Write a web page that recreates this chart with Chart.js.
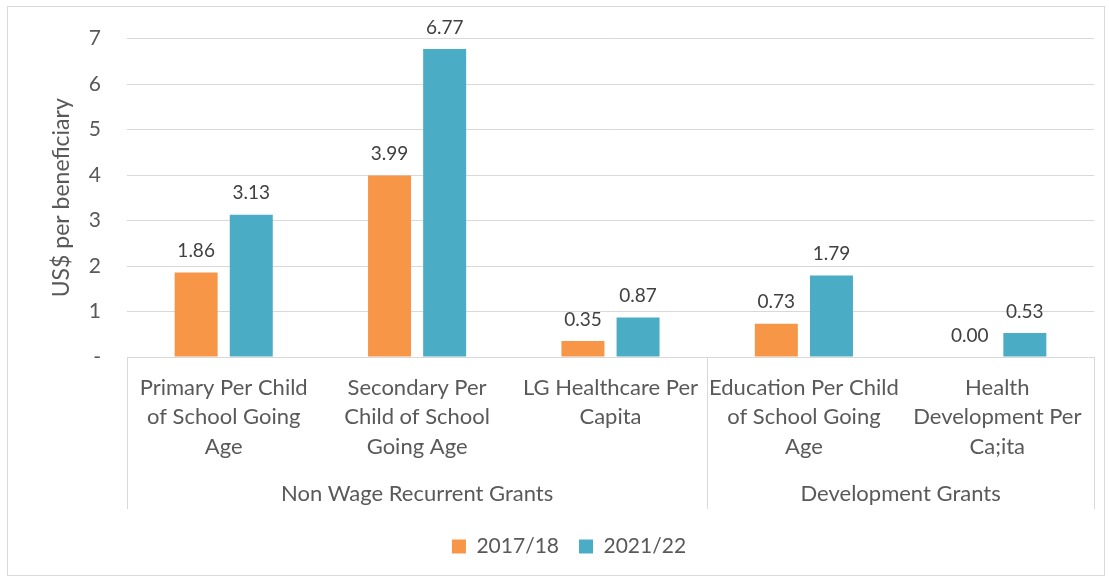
<!DOCTYPE html>
<html lang="en">
<head>
  <meta charset="UTF-8" />
  <title>US$ per beneficiary</title>
  <script src="https://cdn.jsdelivr.net/npm/chart.js"></script>
  <style>
    body { margin: 0; background: #fff; }
    #wrap { position: relative; width: 1109px; height: 581px; }
  </style>
</head>
<body>
<div id="wrap"><canvas id="grantChart"></canvas></div>

<script>
const categories = [
  ['Primary Per Child', 'of School Going', 'Age'],
  ['Secondary Per', 'Child of School', 'Going Age'],
  ['LG Healthcare Per', 'Capita'],
  ['Education Per Child', 'of School Going', 'Age'],
  ['Health', 'Development Per', 'Ca;ita']
];
const groups = [
  { label: 'Non Wage Recurrent Grants', from: 0, to: 2 },
  { label: 'Development Grants', from: 3, to: 4 }
];
const values1718 = [1.86, 3.99, 0.35, 0.73, 0.00];
const values2122 = [3.13, 6.77, 0.87, 1.79, 0.53];

const TEXT = '#595959';
const LINE = '#d9d9d9';
const FONT = 'Lato, "Open Sans", sans-serif';

// value labels above each bar
const barLabels = {
  id: 'barLabels',
  afterDatasetsDraw(chart) {
    const ctx = chart.ctx;
    ctx.save();
    ctx.font = '19px ' + FONT;
    ctx.fillStyle = '#404040';
    ctx.textAlign = 'center';
    ctx.textBaseline = 'bottom';
    chart.data.datasets.forEach((ds, i) => {
      chart.getDatasetMeta(i).data.forEach((bar, j) => {
        ctx.fillText(ds.data[j].toFixed(2), bar.x, bar.y - 12);
      });
    });
    ctx.restore();
  }
};

// second level of the category axis + outer frame
const groupAxis = {
  id: 'groupAxis',
  afterLayout(chart) {
    // legend sits a little right of centre in the original
    chart.legend.left += 18;
    chart.legend.right += 18;
  },
  afterDraw(chart) {
    const ctx = chart.ctx;
    const x = chart.scales.x;
    const top = chart.chartArea.bottom;
    const bottom = top + 152;
    ctx.save();
    ctx.strokeStyle = LINE;
    ctx.lineWidth = 1;
    const edges = [x.getPixelForValue(-0.5)];
    groups.forEach(g => edges.push(x.getPixelForValue(g.to + 0.5)));
    edges.forEach(px => {
      const p = Math.round(px) + 0.5;
      ctx.beginPath();
      ctx.moveTo(p, top);
      ctx.lineTo(p, bottom);
      ctx.stroke();
    });
    ctx.font = '22px ' + FONT;
    ctx.fillStyle = TEXT;
    ctx.textAlign = 'center';
    ctx.textBaseline = 'middle';
    groups.forEach(g => {
      const cx = (x.getPixelForValue(g.from - 0.5) + x.getPixelForValue(g.to + 0.5)) / 2;
      ctx.fillText(g.label, cx, top + 137);
    });
    ctx.strokeRect(7.5, 6.5, 1097, 569);
    ctx.restore();
  }
};

new Chart(document.getElementById('grantChart'), {
  type: 'bar',
  data: {
    labels: categories,
    datasets: [
      { label: '2017/18', data: values1718, backgroundColor: '#f79646', borderWidth: 0,
        categoryPercentage: 0.57, barPercentage: 0.78 },
      { label: '2021/22', data: values2122, backgroundColor: '#4bacc6', borderWidth: 0,
        categoryPercentage: 0.57, barPercentage: 0.78 }
    ]
  },
  options: {
    responsive: true,
    maintainAspectRatio: false,
    animation: false,
    layout: { padding: { left: 8, right: 15, top: 35, bottom: 14 } },
    scales: {
      x: {
        grid: { display: false, drawTicks: false },
        border: { display: true, color: LINE, width: 1 },
        ticks: {
          color: TEXT, font: { family: FONT, size: 22, lineHeight: 1.34 },
          padding: 16, autoSkip: false, maxRotation: 0
        },
        afterFit(scale) { scale.height = 159; }
      },
      y: {
        min: 0, max: 7,
        grid: { color: LINE, drawTicks: false },
        border: { display: false },
        ticks: {
          stepSize: 1, color: TEXT, padding: 26,
          font: { family: FONT, size: 21 },
          callback: v => v === 0 ? '-' : v
        },
        title: {
          display: true, text: 'US$ per beneficiary', color: TEXT,
          font: { family: FONT, size: 23 }, padding: { top: 40 }
        },
        afterFit(scale) { scale.width = 119; }
      }
    },
    plugins: {
      legend: {
        position: 'bottom',
        labels: {
          color: TEXT, boxWidth: 14, boxHeight: 14, padding: 20,
          font: { family: FONT, size: 21 }
        }
      },
      tooltip: { enabled: false }
    }
  },
  plugins: [barLabels, groupAxis]
});
</script>
</body>
</html>
